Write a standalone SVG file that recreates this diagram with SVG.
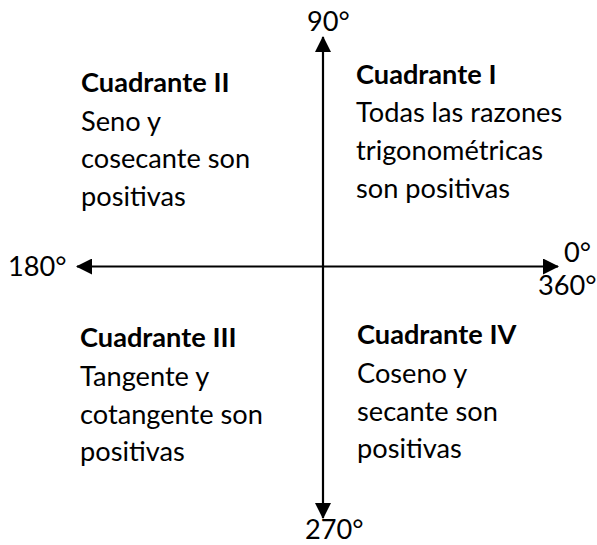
<svg xmlns="http://www.w3.org/2000/svg" width="597" height="545" viewBox="0 0 597 545">
<style>
text{font-family:Lato,"Open Sans","Liberation Sans",sans-serif;font-size:27.2px;fill:#000}
.b{font-weight:bold}
.ax{stroke:#000;stroke-width:2.2;fill:none}
</style>
<defs>
<marker id="ah" viewBox="0 0 16 16" refX="15" refY="8" markerWidth="16" markerHeight="16" markerUnits="userSpaceOnUse" orient="auto-start-reverse">
<path d="M0,0 L16,8 L0,16 Z" fill="#000"/>
</marker>
</defs>
<rect width="597" height="545" fill="#fff"/>
<g id="connectors">
<line class="ax" x1="323" y1="518" x2="323" y2="37" marker-start="url(#ah)" marker-end="url(#ah)"/>
<line class="ax" x1="77" y1="266.5" x2="558" y2="266.5" marker-start="url(#ah)" marker-end="url(#ah)"/>
</g>
<g id="labels">
<text x="307" y="31">90°</text>
<text x="305" y="539">270°</text>
<text x="8" y="276">180°</text>
<text x="564" y="262">0°</text>
<text x="538" y="295">360°</text>
</g>
<g id="q1">
<text class="b" x="356" y="84">Cuadrante I</text>
<text x="356" y="122">Todas las razones</text>
<text x="356" y="160">trigonométricas</text>
<text x="356" y="198">son positivas</text>
</g>
<g id="q2">
<text class="b" x="81" y="92">Cuadrante II</text>
<text x="81" y="131">Seno y</text>
<text x="81" y="168">cosecante son</text>
<text x="81" y="206">positivas</text>
</g>
<g id="q3">
<text class="b" x="80" y="347">Cuadrante III</text>
<text x="80" y="386">Tangente y</text>
<text x="80" y="424">cotangente son</text>
<text x="80" y="461">positivas</text>
</g>
<g id="q4">
<text class="b" x="357" y="344">Cuadrante IV</text>
<text x="357" y="383">Coseno y</text>
<text x="357" y="421">secante son</text>
<text x="357" y="458">positivas</text>
</g>
</svg>
